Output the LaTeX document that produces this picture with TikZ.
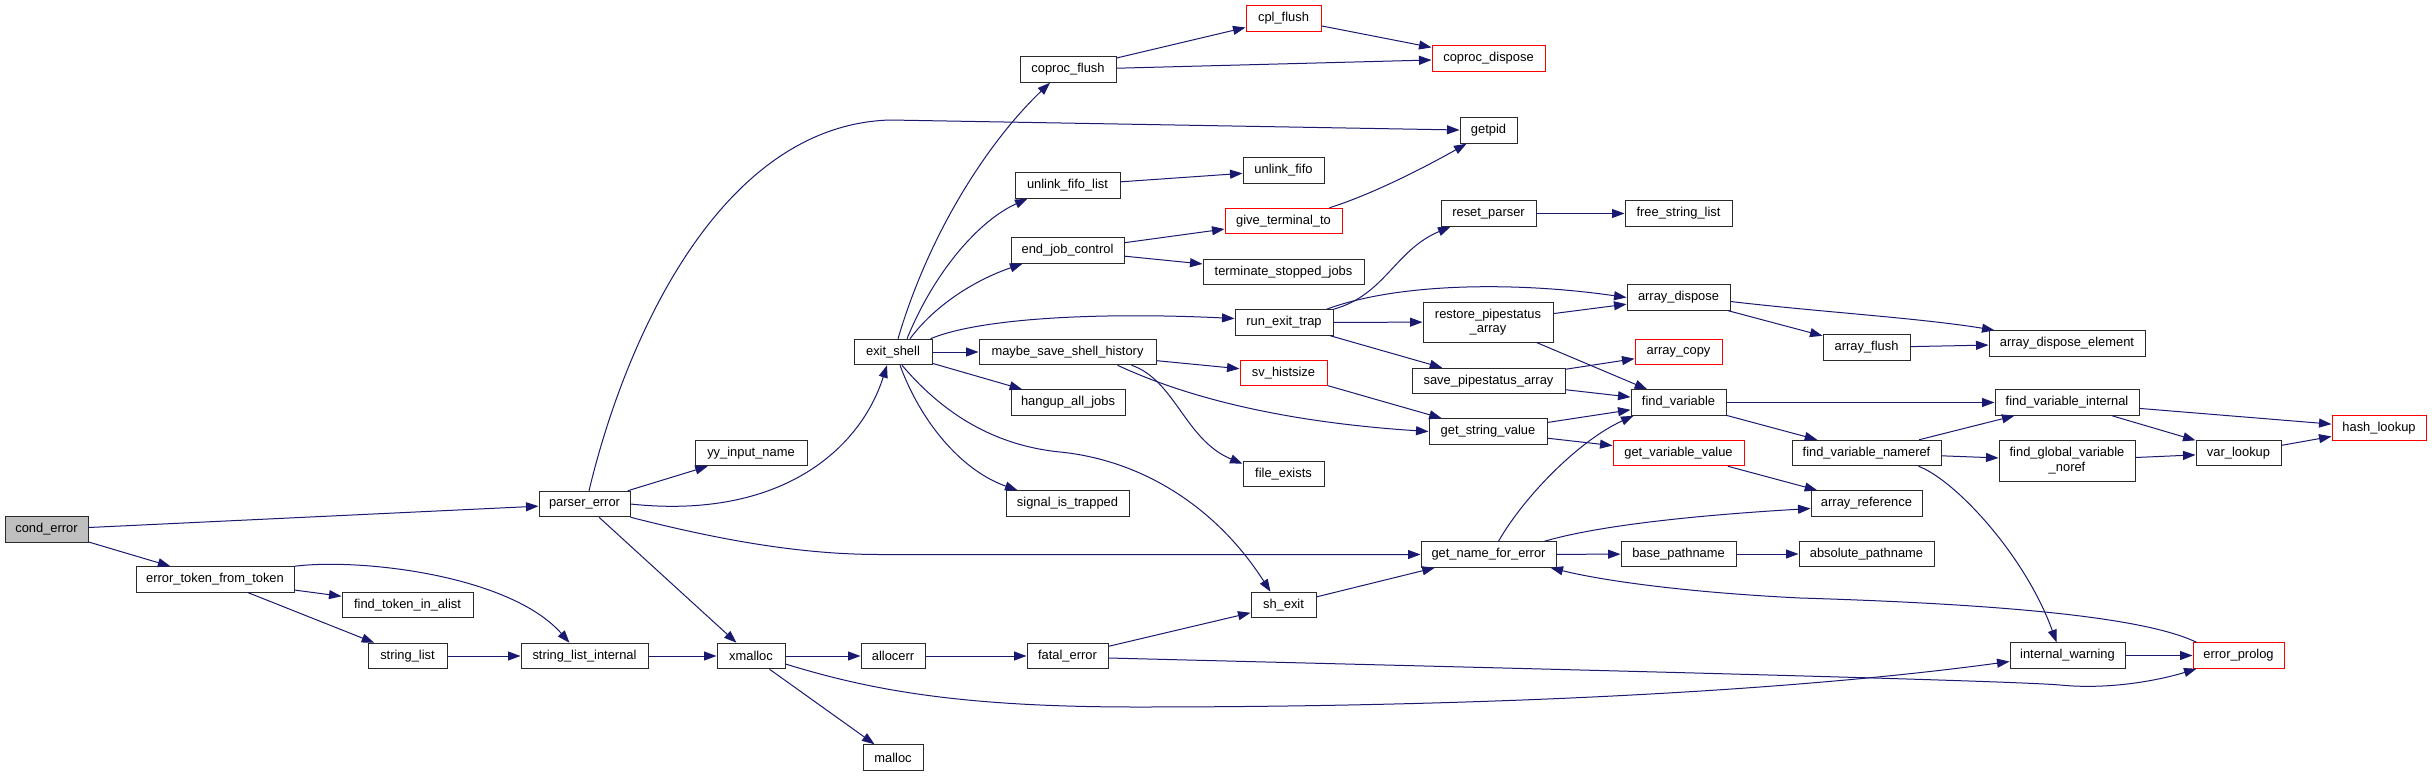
\documentclass[tikz,border=0pt]{standalone}
\usepackage{fontspec}
\setmainfont{Liberation Sans}
\usetikzlibrary{arrows.meta}
\definecolor{edgec}{HTML}{191970}
\definecolor{redc}{HTML}{FF0000}
\definecolor{grayc}{HTML}{BFBFBF}
\definecolor{borderc}{HTML}{2A2A2A}
\begin{document}
\begin{tikzpicture}[x=1pt,y=-1pt,
  fnode/.style={draw=borderc, line width=1pt, fill=white, minimum width=#1, minimum height=25.5pt, inner sep=0pt, font=\fontsize{12.9}{14.3}\selectfont, align=center},
  rnode/.style={fnode=#1, draw=redc},
  calls/.style={draw=edgec, line width=1pt, -{Triangle[length=12.5pt,width=9pt]}}]
\fill[white] (0,0) rectangle (2432,776);
% nodes
\node[fnode=83, fill=grayc] (cond_error) at (46.5,529.5) {cond\_error};
\node[fnode=158] (ett) at (215,579.5) {error\_token\_from\_token};
\node[fnode=131] (ftia) at (407.5,605) {find\_token\_in\_alist};
\node[fnode=79] (string_list) at (407.5,656) {string\_list};
\node[fnode=127] (sli) at (584.5,656) {string\_list\_internal};
\node[fnode=68] (xmalloc) at (751,656) {xmalloc};
\node[fnode=91] (parser_error) at (584.5,504) {parser\_error};
\node[fnode=112] (yy_input_name) at (751,453) {yy\_input\_name};
\node[fnode=78] (exit_shell) at (893,352) {exit\_shell};
\node[fnode=96] (coproc_flush) at (1068,69.5) {coproc\_flush};
\node[rnode=75] (cpl_flush) at (1283.5,18.5) {cpl\_flush};
\node[rnode=113] (coproc_dispose) at (1488.5,58.5) {coproc\_dispose};
\node[fnode=57] (getpid) at (1488.5,130.5) {getpid};
\node[fnode=81] (unlink_fifo) at (1283.5,170.5) {unlink\_fifo};
\node[fnode=105] (unlink_fifo_list) at (1067.5,185.5) {unlink\_fifo\_list};
\node[rnode=117] (give_terminal_to) at (1283.5,221) {give\_terminal\_to};
\node[fnode=95] (reset_parser) at (1488.5,213.5) {reset\_parser};
\node[fnode=107] (free_string_list) at (1678.5,213.5) {free\_string\_list};
\node[fnode=113] (end_job_control) at (1067.5,250.5) {end\_job\_control};
\node[fnode=161] (terminate_stopped_jobs) at (1283.5,272) {terminate\_stopped\_jobs};
\node[fnode=98] (run_exit_trap) at (1284,322.5) {run\_exit\_trap};
\node[fnode=130, minimum height=40pt] (restore) at (1488,322) {restore\_pipestatus\\\_array};
\node[fnode=103] (array_dispose) at (1678.5,297.5) {array\_dispose};
\node[fnode=87] (array_flush) at (1866.5,347.5) {array\_flush};
\node[fnode=156] (ade) at (2067,343.5) {array\_dispose\_element};
\node[rnode=87] (array_copy) at (1678.5,352) {array\_copy};
\node[fnode=177] (msh) at (1067.5,352) {maybe\_save\_shell\_history};
\node[rnode=87] (sv_histsize) at (1283.5,373) {sv\_histsize};
\node[fnode=153] (save_ps) at (1488.5,381) {save\_pipestatus\_array};
\node[fnode=95] (find_variable) at (1678.5,402.5) {find\_variable};
\node[fnode=144] (fvi) at (2067,402.5) {find\_variable\_internal};
\node[fnode=114] (hangup) at (1068,402.5) {hangup\_all\_jobs};
\node[rnode=94] (hash_lookup) at (2379,428) {hash\_lookup};
\node[fnode=118] (get_string_value) at (1488,431.5) {get\_string\_value};
\node[rnode=131] (gvv) at (1678.5,453) {get\_variable\_value};
\node[fnode=149] (fvn) at (1866.5,453) {find\_variable\_nameref};
\node[fnode=136, minimum height=41pt] (fgvn) at (2067,460.5) {find\_global\_variable\\\_noref};
\node[fnode=85] (var_lookup) at (2238.5,453) {var\_lookup};
\node[fnode=81] (file_exists) at (1283.5,474) {file\_exists};
\node[fnode=111] (array_reference) at (1866.5,503.5) {array\_reference};
\node[fnode=123] (signal_is_trapped) at (1067.5,503.5) {signal\_is\_trapped};
\node[fnode=135] (gnfe) at (1488.5,554.5) {get\_name\_for\_error};
\node[fnode=115] (base_pathname) at (1678.5,554) {base\_pathname};
\node[fnode=135] (absolute_pathname) at (1866.5,554) {absolute\_pathname};
\node[fnode=65] (sh_exit) at (1283.5,605) {sh\_exit};
\node[fnode=64] (allocerr) at (893,656) {allocerr};
\node[fnode=81] (fatal_error) at (1067.5,656) {fatal\_error};
\node[fnode=115] (internal_warning) at (2067.5,655.5) {internal\_warning};
\node[rnode=91] (error_prolog) at (2238.5,655.5) {error\_prolog};
\node[fnode=60] (malloc) at (893,757.5) {malloc};
% edges
\draw[calls] (cond_error) -- (parser_error);
\draw[calls] (cond_error) -- (ett);
\draw[calls] (ett) -- (ftia);
\draw[calls] (ett) -- (string_list);
\draw[calls] (ett.north east) .. controls (360,558) and (510,575) .. ([xshift=-15pt]sli.north);
\draw[calls] (string_list) -- (sli);
\draw[calls] (sli) -- (xmalloc);
\draw[calls] ([xshift=4.5pt]parser_error.north) .. controls (625,340) and (720,125) .. (890,120) -- (getpid);
\draw[calls] (parser_error) -- (yy_input_name);
\draw[calls] (parser_error.east) .. controls (780,520) and (860,450) .. ([xshift=-6pt]exit_shell.south);
\draw[calls] (parser_error.south east) .. controls (720,540) and (800,554.5) .. (880,554.5) -- (gnfe);
\draw[calls] (parser_error) -- (xmalloc);
\draw[calls] ([xshift=5pt]exit_shell.north) .. controls (930,230) and (990,140) .. ([xshift=-18pt]coproc_flush.south);
\draw[calls] ([xshift=14pt]exit_shell.north) .. controls (935,270) and (980,220) .. ([xshift=-40pt]unlink_fifo_list.south);
\draw[calls] ([xshift=17pt]exit_shell.north) .. controls (935,305) and (975,280) .. ([xshift=-45pt]end_job_control.south);
\draw[calls] ([xshift=-2pt]exit_shell.north east) .. controls (980,318) and (1100,312) .. ([yshift=4pt]run_exit_trap.west);
\draw[calls] (exit_shell) -- (msh);
\draw[calls] (exit_shell) -- (hangup);
\draw[calls] ([xshift=7pt]exit_shell.south) .. controls (920,420) and (960,470) .. ([xshift=-50pt]signal_is_trapped.north);
\draw[calls] ([xshift=9pt]exit_shell.south) .. controls (940,410) and (990,445) .. (1060,452) .. controls (1140,460) and (1215,505) .. ([xshift=-13pt]sh_exit.north);
\draw[calls] (coproc_flush) -- (cpl_flush);
\draw[calls] (coproc_flush) -- (coproc_dispose);
\draw[calls] (cpl_flush) -- (coproc_dispose);
\draw[calls] (unlink_fifo_list) -- (unlink_fifo);
\draw[calls] (end_job_control) -- (give_terminal_to);
\draw[calls] (end_job_control) -- (terminate_stopped_jobs);
\draw[calls] ([xshift=46pt]give_terminal_to.north) .. controls (1370,195) and (1420,170) .. ([xshift=-22pt]getpid.south);
\draw[calls] (run_exit_trap.north east) .. controls (1385,295) and (1395,250) .. ([xshift=-38pt]reset_parser.south);
\draw[calls] ([xshift=-7pt]run_exit_trap.north east) .. controls (1400,282) and (1520,282) .. (array_dispose.west);
\draw[calls] (run_exit_trap) -- (restore);
\draw[calls] (run_exit_trap) -- (save_ps);
\draw[calls] (reset_parser) -- (free_string_list);
\draw[calls] (restore) -- (array_dispose);
\draw[calls] (restore) -- (find_variable);
\draw[calls] (save_ps) -- (array_copy);
\draw[calls] (save_ps) -- (find_variable);
\draw[calls] (msh) -- (sv_histsize);
\draw[calls] ([xshift=50pt]msh.south) .. controls (1160,385) and (1250,420) .. (get_string_value.west);
\draw[calls] ([xshift=64pt]msh.south) .. controls (1175,380) and (1185,440) .. ([yshift=-3pt]file_exists.north west);
\draw[calls] (sv_histsize) -- (get_string_value);
\draw[calls] (get_string_value) -- (find_variable);
\draw[calls] (get_string_value) -- (gvv);
\draw[calls] (array_dispose) -- (array_flush);
\draw[calls] ([yshift=-4pt]array_dispose.east) .. controls (1820,312) and (1920,318) .. ([xshift=6pt]ade.north west);
\draw[calls] (array_flush) -- (ade);
\draw[calls] (find_variable) -- (fvi);
\draw[calls] (find_variable) -- (fvn);
\draw[calls] (fvi) -- (hash_lookup);
\draw[calls] (fvi) -- (var_lookup);
\draw[calls] (fvn) -- (fvi);
\draw[calls] (fvn) -- (fgvn);
\draw[calls] ([xshift=52pt]fvn.south) .. controls (1955,480) and (2025,555) .. ([xshift=-11pt]internal_warning.north);
\draw[calls] (fgvn) -- (var_lookup);
\draw[calls] (var_lookup) -- (hash_lookup);
\draw[calls] (gvv) -- (array_reference);
\draw[calls] ([xshift=10pt]gnfe.north) .. controls (1525,495) and (1580,440) .. ([xshift=3pt]find_variable.south west);
\draw[calls] ([xshift=56pt]gnfe.north) .. controls (1600,525) and (1700,515) .. ([yshift=-5pt]array_reference.west);
\draw[calls] (gnfe) -- (base_pathname);
\draw[calls] (base_pathname) -- (absolute_pathname);
\draw[calls] (sh_exit) -- (gnfe);
\draw[calls] (xmalloc) -- (allocerr);
\draw[calls] (xmalloc) -- (malloc);
\draw[calls] ([yshift=-8pt]xmalloc.east) .. controls (870,690) and (960,707) .. (1137,707) .. controls (1500,707) and (1800,690) .. ([yshift=-6pt]internal_warning.west);
\draw[calls] (allocerr) -- (fatal_error);
\draw[calls] (fatal_error) -- (sh_exit);
\draw[calls] ([yshift=-2pt]fatal_error.east) .. controls (1500,668) and (2000,680) .. (2060,685) .. controls (2110,690) and (2160,680) .. ([xshift=4pt]error_prolog.south west);
\draw[calls] (internal_warning) -- (error_prolog);
\draw[calls] ([xshift=4pt]error_prolog.north west) .. controls (2150,620) and (2030,605) .. (1800,598) .. controls (1680,592) and (1600,580) .. ([xshift=-6pt]gnfe.south east);
\end{tikzpicture}
\end{document}
